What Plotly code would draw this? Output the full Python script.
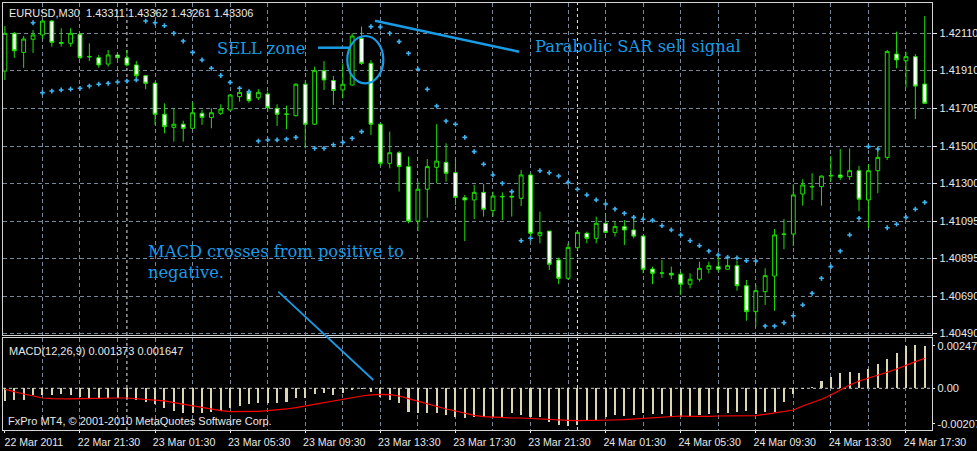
import plotly.graph_objects as go

# ---------------- data (EURUSD M30, 99 bars from 22 Mar 2011 17:30) ----------------
bars = list(range(99))

label_bars = [0, 8, 16, 24, 32, 40, 48, 56, 64, 72, 80, 88, 96]
time_labels = ["22 Mar 2011", "22 Mar 21:30", "23 Mar 01:30", "23 Mar 05:30",
               "23 Mar 09:30", "23 Mar 13:30", "23 Mar 17:30", "23 Mar 21:30",
               "24 Mar 01:30", "24 Mar 05:30", "24 Mar 09:30", "24 Mar 13:30",
               "24 Mar 17:30"]
grid_bars = list(range(4, 99, 4))
day_separator_bars = [13, 61]

opens = [1.41906, 1.42110, 1.42007, 1.42078, 1.42101, 1.42176, 1.42055, 1.42056, 1.42105, 1.41982,
         1.41978, 1.41944, 1.41993, 1.41978, 1.41939, 1.41881, 1.41840, 1.41673, 1.41602, 1.41619,
         1.41597, 1.41678, 1.41656, 1.41678, 1.41696, 1.41768, 1.41791, 1.41762, 1.41782, 1.41705,
         1.41672, 1.41665, 1.41835, 1.41619, 1.41908, 1.41855, 1.41804, 1.41831, 1.42083, 1.41948,
         1.41619, 1.41408, 1.41465, 1.41390, 1.41096, 1.41268, 1.41386, 1.41413, 1.41357, 1.41222,
         1.41210, 1.41251, 1.41152, 1.41226, 1.41230, 1.41219, 1.41345, 1.41019, 1.41042, 1.40886,
         1.40787, 1.40952, 1.41030, 1.41003, 1.41084, 1.41035, 1.41066, 1.41048, 1.41015, 1.40837,
         1.40814, 1.40814, 1.40809, 1.40755, 1.40782, 1.40836, 1.40850, 1.40836, 1.40855, 1.40747,
         1.40607, 1.40715, 1.40799, 1.41023, 1.41026, 1.41242, 1.41280, 1.41282, 1.41339, 1.41345,
         1.41336, 1.41368, 1.41210, 1.41368, 1.41440, 1.41998, 1.41962, 1.41984, 1.41836]
highs = [1.42149, 1.42117, 1.42095, 1.42128, 1.42182, 1.42182, 1.42137, 1.42137, 1.42110, 1.42056,
         1.41993, 1.42020, 1.42002, 1.42020, 1.41960, 1.41885, 1.41849, 1.41732, 1.41705, 1.41638,
         1.41737, 1.41696, 1.41705, 1.41727, 1.41780, 1.41808, 1.41804, 1.41808, 1.41795, 1.41727,
         1.41719, 1.41840, 1.41854, 1.41930, 1.41960, 1.41879, 1.41948, 1.42110, 1.42146, 1.41966,
         1.41626, 1.41579, 1.41474, 1.41444, 1.41309, 1.41431, 1.41619, 1.41516, 1.41435, 1.41237,
         1.41291, 1.41296, 1.41255, 1.41251, 1.41260, 1.41372, 1.41354, 1.41147, 1.41042, 1.40898,
         1.40976, 1.41048, 1.41039, 1.41120, 1.41138, 1.41093, 1.41102, 1.41120, 1.41015, 1.40850,
         1.40886, 1.40850, 1.40823, 1.40814, 1.40877, 1.40877, 1.40913, 1.40886, 1.40882, 1.40778,
         1.40751, 1.40841, 1.41053, 1.41107, 1.41295, 1.41322, 1.41354, 1.41342, 1.41447, 1.41485,
         1.41489, 1.41393, 1.41404, 1.41498, 1.42020, 1.42119, 1.42011, 1.41998, 1.42203]
lows = [1.41858, 1.41977, 1.41923, 1.42004, 1.42079, 1.42038, 1.42038, 1.42038, 1.41971, 1.41960,
        1.41924, 1.41930, 1.41957, 1.41930, 1.41858, 1.41808, 1.41615, 1.41570, 1.41525, 1.41525,
        1.41593, 1.41615, 1.41597, 1.41669, 1.41693, 1.41741, 1.41735, 1.41750, 1.41687, 1.41609,
        1.41592, 1.41661, 1.41489, 1.41615, 1.41804, 1.41723, 1.41759, 1.41828, 1.41939, 1.41561,
        1.41393, 1.41381, 1.41255, 1.41084, 1.41042, 1.41114, 1.41300, 1.41309, 1.41183, 1.40988,
        1.41107, 1.41120, 1.41120, 1.41102, 1.41120, 1.41177, 1.41003, 1.40976, 1.40832, 1.40755,
        1.40778, 1.40940, 1.40976, 1.40976, 1.41030, 1.41012, 1.40967, 1.41003, 1.40814, 1.40755,
        1.40790, 1.40782, 1.40697, 1.40733, 1.40769, 1.40814, 1.40823, 1.40834, 1.40720, 1.40558,
        1.40526, 1.40643, 1.40612, 1.40944, 1.40961, 1.41179, 1.41210, 1.41179, 1.41309, 1.41318,
        1.41318, 1.41150, 1.41057, 1.41246, 1.41426, 1.41921, 1.41818, 1.41647, 1.41730]
closes = [1.42110, 1.42016, 1.42079, 1.42101, 1.42176, 1.42061, 1.42060, 1.42110, 1.41978, 1.41985,
          1.41939, 1.41993, 1.41978, 1.41939, 1.41881, 1.41840, 1.41673, 1.41606, 1.41619, 1.41597,
          1.41681, 1.41656, 1.41681, 1.41701, 1.41777, 1.41791, 1.41746, 1.41791, 1.41708, 1.41673,
          1.41674, 1.41835, 1.41619, 1.41908, 1.41858, 1.41801, 1.41835, 1.42095, 1.41948, 1.41619,
          1.41408, 1.41465, 1.41390, 1.41096, 1.41268, 1.41390, 1.41420, 1.41354, 1.41224, 1.41210,
          1.41251, 1.41160, 1.41231, 1.41229, 1.41226, 1.41345, 1.41030, 1.41035, 1.40863, 1.40787,
          1.40954, 1.41035, 1.41003, 1.41084, 1.41035, 1.41066, 1.41048, 1.41015, 1.40836, 1.40814,
          1.40816, 1.40805, 1.40755, 1.40782, 1.40841, 1.40855, 1.40836, 1.40855, 1.40747, 1.40607,
          1.40720, 1.40801, 1.41021, 1.41026, 1.41237, 1.41291, 1.41283, 1.41339, 1.41342, 1.41332,
          1.41368, 1.41214, 1.41368, 1.41440, 1.42011, 1.41966, 1.41984, 1.41825, 1.41732]

parabolic_sar = [None, None, None, 1.42167, 1.41789, 1.41798, 1.41804, 1.41808, 1.41813, 1.41825,
                 1.41835, 1.41840, 1.41847, 1.41852, 1.41858, 1.42176, 1.42167, 1.42151, 1.42110, 1.42068,
                 1.42007, 1.41966, 1.41921, 1.41882, 1.41845, 1.41813, 1.41795, 1.41528, 1.41534, 1.41534,
                 1.41539, 1.41548, None, 1.41489, 1.41489, 1.41508, 1.41521, 1.41543, 1.41579, 1.42146,
                 1.42144, 1.42110, 1.42065, 1.42002, 1.41916, 1.41808, 1.41717, 1.41636, 1.41619, 1.41548,
                 1.41471, 1.41403, 1.41345, 1.41300, 1.41255, 1.40990, 1.41003, 1.41368, 1.41357, 1.41339,
                 1.41305, 1.41268, 1.41237, 1.41210, 1.41188, 1.41161, 1.41138, 1.41116, 1.41106, 1.41100,
                 1.41071, 1.41048, 1.41021, 1.40990, 1.40963, 1.40934, 1.40913, 1.40900, 1.40897, 1.40882,
                 1.40880, 1.40529, 1.40529, 1.40547, 1.40585, 1.40643, 1.40706, 1.40787, 1.40850, 1.40934,
                 1.41021, 1.41111, 1.41498, 1.41485, 1.41060, 1.41079, 1.41116, 1.41160, 1.41197]

macd_main = [-0.000720, -0.000681, -0.000681, -0.000389, -0.000389, -0.000389, -0.000331, -0.000389, -0.000487, -0.000545,
             -0.000584, -0.000584, -0.000584, -0.000623, -0.000681, -0.000779, -0.000915, -0.001168, -0.001324, -0.001460,
             -0.001460, -0.001421, -0.001363, -0.001324, -0.001168, -0.001032, -0.000915, -0.000876, -0.000876, -0.000876,
             -0.000779, -0.000584, -0.000584, -0.000350, -0.000292, -0.000389, -0.000292, -0.000097, -0.000058, -0.000195,
             -0.000487, -0.000681, -0.000876, -0.001363, -0.001460, -0.001460, -0.001460, -0.001558, -0.001655, -0.001752,
             -0.001694, -0.001694, -0.001694, -0.001694, -0.001460, -0.001558, -0.001694, -0.001655, -0.001947, -0.002142,
             -0.002200, -0.002142, -0.001889, -0.001850, -0.001694, -0.001558, -0.001616, -0.001558, -0.001460, -0.001499,
             -0.001499, -0.001694, -0.001655, -0.001694, -0.001558, -0.001499, -0.001460, -0.001421, -0.001363, -0.001304,
             -0.001499, -0.001363, -0.001363, -0.000779, -0.000331, -0.000039, 0.000058, 0.000448, 0.000681, 0.000915,
             0.000935, 0.000915, 0.001129, 0.001402, 0.001694, 0.002083, 0.002492, 0.002531, 0.002492]
macd_signal = [-0.000058, -0.000214, -0.000331, -0.000448, -0.000565, -0.000604, -0.000623, -0.000623, -0.000604, -0.000584,
               -0.000565, -0.000565, -0.000565, -0.000565, -0.000604, -0.000643, -0.000681, -0.000740, -0.000837, -0.000935,
               -0.001032, -0.001129, -0.001227, -0.001304, -0.001363, -0.001363, -0.001363, -0.001343, -0.001304, -0.001266,
               -0.001207, -0.001129, -0.001032, -0.000915, -0.000837, -0.000759, -0.000662, -0.000565, -0.000448, -0.000389,
               -0.000350, -0.000370, -0.000448, -0.000604, -0.000759, -0.000915, -0.001071, -0.001207, -0.001324, -0.001460,
               -0.001577, -0.001655, -0.001694, -0.001713, -0.001733, -0.001733, -0.001752, -0.001772, -0.001811, -0.001850,
               -0.001869, -0.001889, -0.001889, -0.001889, -0.001869, -0.001850, -0.001830, -0.001791, -0.001733, -0.001694,
               -0.001674, -0.001635, -0.001616, -0.001635, -0.001655, -0.001635, -0.001616, -0.001616, -0.001616, -0.001616,
               -0.001597, -0.001519, -0.001421, -0.001324, -0.001266, -0.001032, -0.000837, -0.000643, -0.000389, -0.000097,
               0.000195, 0.000428, 0.000584, 0.000740, 0.000935, 0.001129, 0.001363, 0.001558, 0.001752]

price_ticks = [1.42110, 1.41910, 1.41705, 1.41500, 1.41300, 1.41095, 1.40895, 1.40690, 1.40490]
price_tick_text = ["1.42110", "1.41910", "1.41705", "1.41500", "1.41300", "1.41095", "1.40895", "1.40690", "1.40490"]
macd_ticks = [0.002471, 0.0, -0.00207]
macd_tick_text = ["0.002471", "0.00", "-0.00207"]

header_text = "EURUSD,M30  1.43311 1.43362 1.43261 1.43306"
macd_header = "MACD(12,26,9) 0.001373 0.001647"
copyright_text = "FxPro MT4, \u00a9 2001-2010 MetaQuotes Software Corp."

assert all(len(a) == 99 for a in [opens, highs, lows, closes, parabolic_sar, macd_main, macd_signal])

# ---------------- styling / geometry ----------------
FIG_W, FIG_H = 977, 451
ML, MR, MT, MB = 3, 45, 3, 21
PW, PH = FIG_W - ML - MR, FIG_H - MT - MB
FIRST_BAR_PX, BAR_PX = 4.9, 9.386

def fx(px):
    return (px - ML) / PW

def fy(py):
    return 1 - (py - MT) / PH

X_RANGE = [(ML - FIRST_BAR_PX) / BAR_PX, (ML + PW - FIRST_BAR_PX) / BAR_PX]
PRICE_RANGE = [1.404808, 1.422736]
MACD_RANGE = [-0.002435, 0.00292]

GREEN = "#1ee000"
SAR_BLUE = "#3db4f2"
NOTE_BLUE = "#1a9be6"
GRID = "#778899"
FRAME = "#d4d4d4"
TXT = "#e8e8e8"
HIST = "#dad6b4"
SANS = "Liberation Sans, Arial, sans-serif"
SERIF = "DejaVu Serif, serif"

fig = go.Figure()

fig.add_trace(go.Candlestick(
    x=bars, open=opens, high=highs, low=lows, close=closes,
    increasing=dict(line=dict(color=GREEN, width=1), fillcolor="#000000"),
    decreasing=dict(line=dict(color=GREEN, width=1), fillcolor="#ffffff"),
    whiskerwidth=0, xaxis="x", yaxis="y", hoverinfo="skip",
))
fig.add_trace(go.Scatter(
    x=bars, y=parabolic_sar, mode="markers", xaxis="x", yaxis="y",
    marker=dict(symbol="cross", size=4, color=SAR_BLUE, line=dict(width=0)),
    hoverinfo="skip",
))
fig.add_trace(go.Bar(
    x=bars, y=macd_main, xaxis="x2", yaxis="y2", width=0.22,
    marker=dict(color=HIST, line=dict(width=0)), hoverinfo="skip",
))
fig.add_trace(go.Scatter(
    x=bars, y=macd_signal, mode="lines", xaxis="x2", yaxis="y2",
    line=dict(color="#ff0000", width=1.2), hoverinfo="skip",
))

main_dom = [fy(335), 1]
macd_dom = [0, fy(338.3)]

axis_common = dict(showline=True, mirror=True, linecolor=FRAME, linewidth=1.3,
                   automargin=False, zeroline=False)

fig.update_layout(
    width=FIG_W, height=FIG_H, template="none",
    paper_bgcolor="#000000", plot_bgcolor="#000000",
    margin=dict(l=ML, r=MR, t=MT, b=MB, pad=0),
    showlegend=False, boxgap=0.42, bargap=0, hovermode=False,
    xaxis=dict(domain=[0, 1], range=X_RANGE, anchor="y", rangeslider=dict(visible=False),
               tickvals=grid_bars, showticklabels=False, ticks="",
               showgrid=True, gridcolor=GRID, griddash="4px,3px", gridwidth=1, **axis_common),
    yaxis=dict(domain=main_dom, range=PRICE_RANGE, anchor="x", side="right",
               tickvals=price_ticks, ticktext=price_tick_text,
               ticks="outside", ticklen=4, tickcolor=TXT, tickwidth=1,
               tickfont=dict(family=SANS, size=11, color=TXT),
               showgrid=True, gridcolor=GRID, griddash="4px,3px", gridwidth=1, **axis_common),
    xaxis2=dict(domain=[0, 1], range=X_RANGE, anchor="y2",
                tickvals=label_bars, ticktext=time_labels, ticks="outside", ticklen=2,
                tickcolor=TXT, ticklabelshift=29,
                tickfont=dict(family=SANS, size=10.6, color=TXT),
                showgrid=False,
                minor=dict(tickvals=grid_bars, showgrid=True, gridcolor=GRID,
                           griddash="4px,3px", gridwidth=1, ticks=""),
                **axis_common),
    yaxis2=dict(domain=macd_dom, range=MACD_RANGE, anchor="x2", side="right",
                tickvals=macd_ticks, ticktext=macd_tick_text,
                ticks="outside", ticklen=2, tickcolor=TXT,
                tickfont=dict(family=SANS, size=11, color=TXT),
                showgrid=False, **axis_common),
)

shapes = []
# MACD zero line
shapes.append(dict(type="line", xref="x2 domain", yref="y2", x0=0, x1=1, y0=0, y1=0,
                   line=dict(color="#c8c8c8", width=1, dash="3px,3px"), layer="below"))
# day separators
for b in day_separator_bars:
    for xr, yr in (("x", "y domain"), ("x2", "y2 domain")):
        shapes.append(dict(type="line", xref=xr, yref=yr, x0=b, x1=b, y0=0, y1=1,
                           line=dict(color="#e6e6e6", width=1, dash="3px,3px"), layer="below"))
# hand-drawn notes
shapes.append(dict(type="line", xref="paper", yref="paper", x0=fx(318), x1=fx(350),
                   y0=fy(47.7), y1=fy(47.7), line=dict(color=NOTE_BLUE, width=2.5)))
shapes.append(dict(type="circle", xref="paper", yref="paper", x0=fx(347.3), x1=fx(383.3),
                   y0=fy(83.3), y1=fy(36), line=dict(color=NOTE_BLUE, width=2.2)))
shapes.append(dict(type="line", xref="paper", yref="paper", x0=fx(375), x1=fx(519),
                   y0=fy(20.7), y1=fy(51.7), line=dict(color=NOTE_BLUE, width=2.5)))
shapes.append(dict(type="line", xref="paper", yref="paper", x0=fx(278.3), x1=fx(373.3),
                   y0=fy(291.7), y1=fy(380), line=dict(color=NOTE_BLUE, width=1.8)))
fig.update_layout(shapes=shapes)

def note(text, px, py, font):
    return dict(text=text, xref="paper", yref="paper", x=fx(px), y=fy(py),
                xanchor="left", yanchor="middle", showarrow=False, align="left",
                font=font, borderpad=0)

sans_small = dict(family=SANS, size=11, color=TXT)
serif_blue = dict(family=SERIF, size=16.3, color=NOTE_BLUE)
fig.update_layout(annotations=[
    note(header_text, 7.5, 13, sans_small),
    note(macd_header, 7.5, 350.5, sans_small),
    note(copyright_text, 7, 420.7, sans_small),
    note("SELL zone", 216, 48, serif_blue),
    note("Parabolic SAR sell signal", 534, 46, serif_blue),
    note("MACD crosses from positive to<br>negative.", 147, 262, serif_blue),
])

fig.write_html(
    "out.html",
    config={"displayModeBar": False, "staticPlot": True},
    post_script="document.body.style.margin='0';document.body.style.padding='0';"
                "document.body.style.overflow='hidden';",
)
